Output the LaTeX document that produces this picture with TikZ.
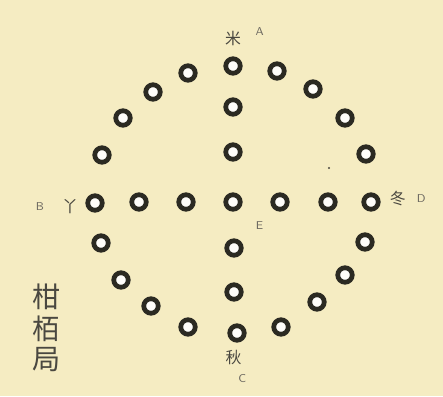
\documentclass[tikz,border=0pt]{standalone}
\usepackage{fontspec}
\newfontfamily\cjk{Noto Sans CJK SC}
\usepackage{tikz}
\usetikzlibrary{positioning}
\definecolor{cpapel}{HTML}{F5ECC2}
\definecolor{canillo}{HTML}{2B2A22}
\definecolor{ctinta}{HTML}{4A4840}
\definecolor{cletra}{HTML}{6F6B62}
\tikzset{
  anillo/.style={circle, draw=canillo, fill=white!92!cpapel, line width=2.7pt,
    minimum size=0.29cm, inner sep=0pt},
  marca/.style={font=\cjk\fontsize{9}{9}\selectfont, text=ctinta, inner sep=0pt},
  letra/.style={font=\sffamily\fontsize{6.5}{6.5}\selectfont, text=cletra, inner sep=0pt},
  titulo/.style={font=\cjk\fontsize{16}{16}\selectfont, text=ctinta, inner sep=0pt},
}
\begin{document}
\begin{tikzpicture}[x=0.02cm, y=-0.02cm]
  \fill[cpapel] (0,0) rectangle (443,396);
  \useasboundingbox (0,0) rectangle (443,396);
  % anillo exterior
  \node[anillo] (o1) at (233,66) {};
  \node[anillo] (o2) at (277,71) {};
  \node[anillo] (o3) at (313,89) {};
  \node[anillo] (o4) at (345,118) {};
  \node[anillo] (o5) at (366,154) {};
  \node[anillo] (o6) at (371,202) {};
  \node[anillo] (o7) at (365,242) {};
  \node[anillo] (o8) at (345,275) {};
  \node[anillo] (o9) at (317,302) {};
  \node[anillo] (o10) at (281,327) {};
  \node[anillo] (o11) at (237,333) {};
  \node[anillo] (o12) at (188,327) {};
  \node[anillo] (o13) at (151,306) {};
  \node[anillo] (o14) at (121,280) {};
  \node[anillo] (o15) at (101,243) {};
  \node[anillo] (o16) at (95,203) {};
  \node[anillo] (o17) at (102,155) {};
  \node[anillo] (o18) at (123,118) {};
  \node[anillo] (o19) at (153,92) {};
  \node[anillo] (o20) at (188,73) {};
  % cruz central
  \node[anillo] (e) at (233,202) {};
  \node[anillo] (v1) at (233,107) {};
  \node[anillo] (v2) at (233,152) {};
  \node[anillo] (v3) at (234,248) {};
  \node[anillo] (v4) at (234,292) {};
  \node[anillo] (h1) at (139,202) {};
  \node[anillo] (h2) at (186,202) {};
  \node[anillo] (h3) at (280,202) {};
  \node[anillo] (h4) at (328,202) {};
  \fill[ctinta] (329,168) circle (1.2);
  % rotulos
  \node[marca, above=6pt of o1] (ma) {米};
  \node[letra, right=8pt of ma, yshift=4pt] (la) {A};
  \node[marca, left=4pt of o16, yshift=-2pt] (mb) {丫};
  \node[letra, left=10pt of mb] (lb) {B};
  \node[marca, right=5pt of o6, yshift=2pt] (md) {冬};
  \node[letra, right=6pt of md] (ld) {D};
  \node[marca, below=4pt of o11, xshift=-2pt] (mc) {秋};
  \node[letra, below=5pt of mc, xshift=5pt] (lc) {C};
  \node[letra, below right=7pt and 9pt of e] (le) {E};
  \node[titulo] (t1) at (47,297) {柑};
  \node[titulo, below=3pt of t1] (t2) {栢};
  \node[titulo, below=3pt of t2] (t3) {局};
\end{tikzpicture}
\end{document}
